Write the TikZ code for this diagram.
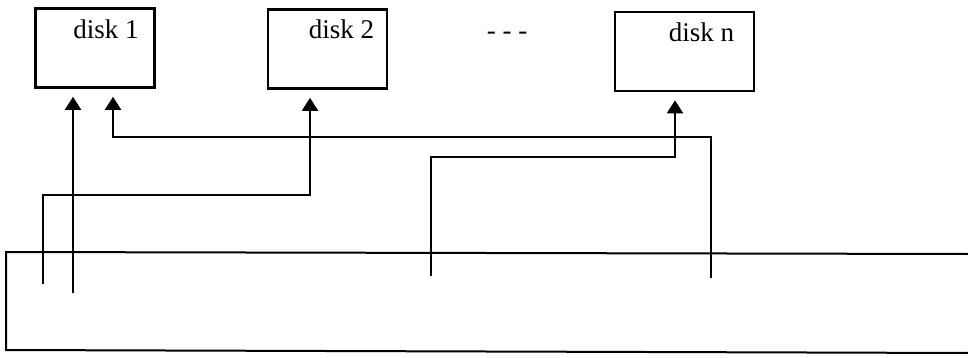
\documentclass[tikz,border=0pt]{standalone}
\usepackage{fontspec}
\setmainfont{Liberation Serif}
\usetikzlibrary{positioning,arrows.meta}

\begin{document}
\begin{tikzpicture}[
    x=1pt, y=-1pt,
    disk/.style={draw, line width=2.6pt, minimum width=119pt, minimum height=79pt},
    disklabel/.style={anchor=base east, inner sep=0pt, font=\fontsize{27}{31}\selectfont},
    bus/.style={line width=2pt},
    arrow/.style={-{Triangle[length=13pt, width=16pt]}, line width=2pt, shorten >=8pt}
  ]
    \useasboundingbox (0,0) rectangle (968,358);

    \node[disk] (d1) at (95,48) {};
    \node[disk] (d2) at (327.5,49) {};
    \node[disk, minimum width=139pt] (dn) at (684.5,51.5) {};
    \node[disklabel] (l1) at ([xshift=-17pt, yshift=-31pt]d1.north east) {disk 1};
    \node[disklabel] (l2) at ([xshift=-14pt, yshift=-30pt]d2.north east) {disk 2};
    \node[disklabel] (ln) at ([xshift=-21pt, yshift=-31pt]dn.north east) {disk n};
    \node[disklabel, anchor=base] (dots) at (507,40) {- - -};

    \draw[bus] (968,254) -- (6,252) -- (6,350) -- (968,353);

    \coordinate (t1) at (43,284);
    \coordinate (t2) at (73,293);
    \coordinate (t3) at (431,276);
    \coordinate (t4) at (711,278);
    \coordinate (j1) at (310,195);
    \coordinate (j3) at (675,157);
    \coordinate (j4) at (113,137);

    \draw[arrow] (t2) -- (t2 |- d1.south);
    \draw[arrow] (t4) |- (j4) -- (j4 |- d1.south);
    \draw[arrow] (t1) |- (j1) -- (j1 |- d2.south);
    \draw[arrow] (t3) |- (j3) -- (j3 |- dn.south);
\end{tikzpicture}
\end{document}
